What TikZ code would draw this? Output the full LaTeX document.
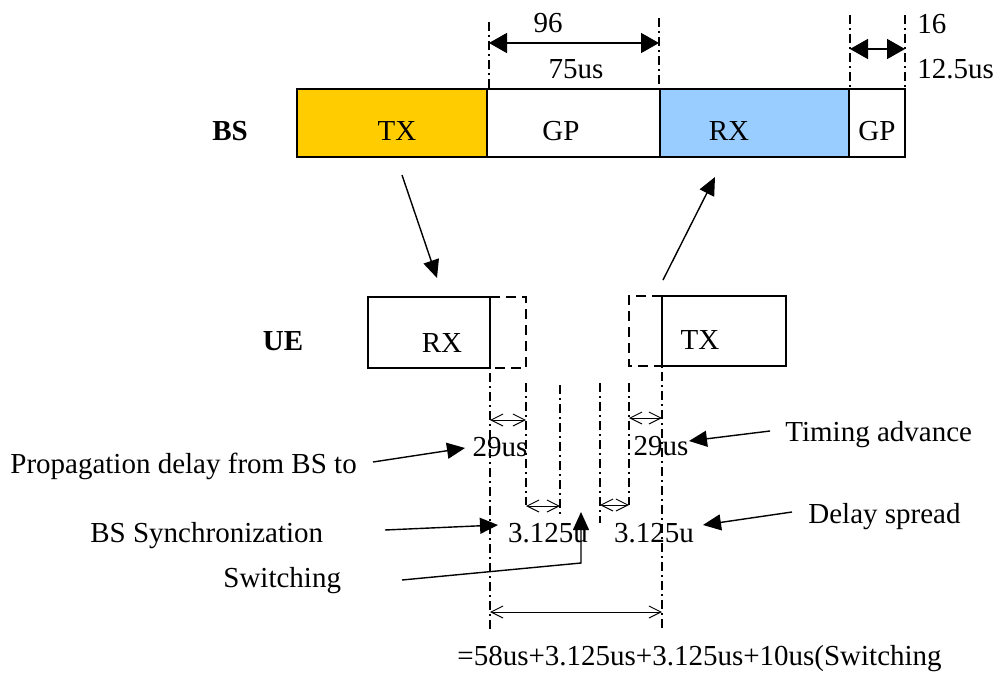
\documentclass[tikz,border=0pt]{standalone}
\usepackage{fontspec}
\setmainfont{Liberation Serif}
\usetikzlibrary{arrows.meta}
\definecolor{txorange}{HTML}{FFCC00}
\definecolor{rxblue}{HTML}{99CCFF}
\tikzset{
  slot/.style={draw=black, line width=0.75pt},
  ghost/.style={draw=black, line width=0.75pt, dash pattern=on 5pt off 3pt},
  guide/.style={black, line width=0.6pt, dash pattern=on 4.5pt off 2pt on 1pt off 2pt},
  span arrow/.style={line width=0.8pt, {Triangle[length=9pt,width=10pt]}-{Triangle[length=9pt,width=10pt]}},
  gap arrow/.style={line width=0.5pt, {Straight Barb[length=6pt,width=6pt]}-{Straight Barb[length=6pt,width=6pt]}},
  note arrow/.style={line width=0.7pt, -{Triangle[length=9pt,width=8pt]}},
  lbl/.style={inner sep=0pt, anchor=base, font=\fontsize{14.5}{17}\selectfont},
}

\begin{document}
\begin{tikzpicture}[x=0.5pt, y=-0.5pt]
    \useasboundingbox (0,0) rectangle (993,675);
    %BS frame:
    \draw[slot, fill=txorange] (297,89) rectangle (487,157);
    \draw[slot] (487,89) rectangle (660,157);
    \draw[slot, fill=rxblue] (660,89) rectangle (849,157);
    \draw[slot] (849,89) rectangle (905,157);
    \node[lbl, font=\fontsize{14.5}{17}\selectfont\bfseries] (bs) at (230,140) {BS};
    \node[lbl] (bstx) at (397,140) {TX};
    \node[lbl] (bsgp) at (561,140) {GP};
    \node[lbl] (bsrx) at (729,140) {RX};
    \node[lbl] (bsgpb) at (877,140) {GP};
    %Guard period spans on top
    \draw[guide] (489,22)--(489,89);
    \draw[guide] (659,18)--(659,89);
    \draw[guide] (850,15)--(850,89);
    \draw[guide] (905,15)--(905,89);
    \coordinate (gpl) at (489,43);
    \coordinate (gpr) at (659,43);
    \coordinate (gbl) at (850,49);
    \coordinate (gbr) at (905,49);
    \draw[span arrow] (gpl)--(gpr);
    \draw[span arrow] (gbl)--(gbr);
    \node[lbl] (gpn) at (548,32) {96};
    \node[lbl] (gpt) at (576,78) {75us};
    \node[lbl, anchor=base west] (gbn) at (917,33) {16};
    \node[lbl, anchor=base west] (gbt) at (917,78) {12.5us};
    %Links between BS and UE
    \coordinate (dla) at (402,175);
    \coordinate (dlb) at (437,278);
    \coordinate (ula) at (663,280);
    \coordinate (ulb) at (715,177);
    \draw[note arrow] (dla)--(dlb);
    \draw[note arrow] (ula)--(ulb);
    %UE frame:
    \draw[slot] (368,297) rectangle (490,368);
    \draw[ghost] (490,297)--(526,297)--(526,368)--(490,368);
    \draw[slot] (662,296) rectangle (786,366);
    \draw[ghost] (662,296)--(629,296)--(629,366)--(662,366);
    \node[lbl, font=\fontsize{14.5}{17}\selectfont\bfseries] (ue) at (283,350) {UE};
    \node[lbl] (uerx) at (442,352) {RX};
    \node[lbl] (uetx) at (700,349) {TX};
    %Guide lines below UE
    \draw[guide] (490,297)--(490,630);
    \draw[guide] (662,296)--(662,630);
    \draw[guide] (526,383)--(526,505);
    \draw[guide] (560,385)--(560,518);
    \draw[guide] (600,383)--(600,523);
    \draw[guide] (629,383)--(629,505);
    \draw[gap arrow] (490,420)--(526,420);
    \draw[gap arrow] (629,418)--(662,418);
    \draw[gap arrow] (526,506)--(560,506);
    \draw[gap arrow] (600,505)--(629,505);
    \draw[gap arrow] (490,612)--(662,612);
    \node[lbl] (pdl) at (500,456) {29us};
    \node[lbl] (tar) at (661,455) {29us};
    \node[lbl] (syl) at (548,542) {3.125u};
    \node[lbl] (dsr) at (654,542) {3.125u};
    %Notes with arrows
    \node[lbl, anchor=base west] (prop) at (10,473) {Propagation delay from BS to};
    \node[lbl, anchor=base west] (sync) at (90,542) {BS Synchronization};
    \node[lbl, anchor=base west] (swit) at (223,587) {Switching};
    \node[lbl, anchor=base west] (tadv) at (785,441) {Timing advance};
    \node[lbl, anchor=base west] (dspr) at (808,523) {Delay spread};
    \node[lbl, anchor=base west] (sum) at (457,665) {=58us+3.125us+3.125us+10us(Switching};
    \coordinate (pa) at (373,462);
    \coordinate (pb) at (465,448);
    \coordinate (sa) at (385,530);
    \coordinate (sb) at (498,525);
    \coordinate (wa) at (402,580);
    \coordinate (wk) at (581,563);
    \coordinate (wb) at (581,512);
    \coordinate (ta) at (770,431);
    \coordinate (tb) at (689,441);
    \coordinate (da) at (792,512);
    \coordinate (db) at (703,525);
    \draw[note arrow] (pa)--(pb);
    \draw[note arrow] (sa)--(sb);
    \draw[note arrow] (wa)--(wk)--(wb);
    \draw[note arrow] (ta)--(tb);
    \draw[note arrow] (da)--(db);
\end{tikzpicture}
\end{document}
